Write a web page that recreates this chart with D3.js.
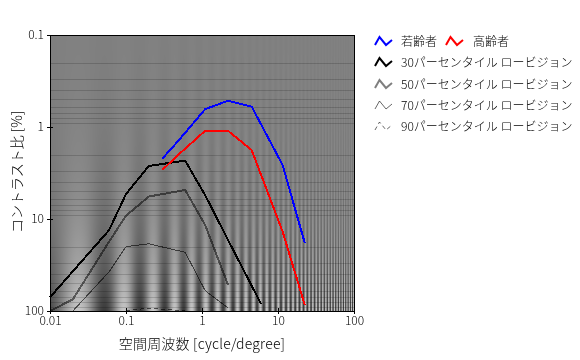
<html>
<head>
  <meta charset="utf-8">
  <title>コントラスト感度</title>
  <script src="https://cdn.jsdelivr.net/npm/d3@7"></script>
  <style>
  html, body{
    margin: 0;
    padding: 0;
    background: white;
    overflow: hidden;
  }
  #chart{
    position: relative;
    width: 580px;
    height: 360px;
  }
  #grating{
    position: absolute;
    left: 50px;
    top: 35px;
  }
  svg{
    position: absolute;
    left: 0;
    top: 0;
  }
  text{
    font-family: "Noto Sans CJK JP", "Noto Sans", sans-serif;
    font-weight: 300;
    fill: black;
  }
  .axis text{
    font-size: 12px;
  }
  .axis path{
    display: none;
  }
  .axis line{
    stroke: black;
    shape-rendering: crispEdges;
  }
  </style>
</head>
<body>
  <div id='chart'>
    <canvas id='grating' width='304' height='276'></canvas>
  </div>
  <script>
  // spatial frequency [cycle/degree]
  var freqLow = [0.01, 0.02, 0.06, 0.1, 0.2, 0.6, 1.1, 2.2, 6]
  var freqEye = [0.3, 0.5, 1.1, 2.2, 4.5, 11.5, 22.5]
  var p70Freq = [0.02, 0.06, 0.1, 0.2, 0.6, 1.1, 2.2]
  var p90Freq = [0.1, 0.2, 0.6]

  // contrast [%]
  var young = [2.21, 1.38, 0.64, 0.518, 0.60, 2.59, 18.2]
  var old = [2.93, 1.97, 1.10, 1.10, 1.78, 13.7, 86]
  var p30 = [71, 37, 13.2, 5.35, 2.65, 2.32, 5.5, 16.9, 84]
  var p50 = [100, 74.7, 17.6, 9.2, 5.7, 4.84, 11.6, 52]
  var p70 = [100, 37.4, 20, 18.6, 23, 60, 92.7]
  var p90 = [100, 92.7, 100]

  var xTicks = [0.01, 0.1, 1, 10, 100]
  var yTicks = [0.1, 1, 10, 100]
  var minorDecades = [0.1, 1, 10]
  var minorSteps = [2, 3, 4, 5, 6, 7, 8, 9]

  var series = [
    {name: "30パーセンタイル ロービジョン", f: freqLow, v: p30, color: "black", width: 2, opacity: 1, dash: null},
    {name: "50パーセンタイル ロービジョン", f: freqLow, v: p50, color: "black", width: 2, opacity: 0.5, dash: null},
    {name: "70パーセンタイル ロービジョン", f: p70Freq, v: p70, color: "black", width: 1, opacity: 0.6, dash: null},
    {name: "90パーセンタイル ロービジョン", f: p90Freq, v: p90, color: "black", width: 1, opacity: 0.6, dash: "4,3"},
    {name: "若齢者", f: freqEye, v: young, color: "blue", width: 2, opacity: 1, dash: null},
    {name: "高齢者", f: freqEye, v: old, color: "red", width: 2, opacity: 1, dash: null}
  ]

  var margin = {top: 35, left: 50}
  var width = 304, height = 276

  var x = d3.scaleLog().domain([0.01, 100]).range([0, width])
  var y = d3.scaleLog().domain([0.1, 100]).range([0, height])

  // background grating, contrast grows downward, frequency to the right
  function drawGrating(){
    var ctx = document.getElementById("grating").getContext("2d")
    var img = ctx.createImageData(width, height)
    for (var j = 0; j < height; j++){
      var c = y.invert(j + 0.5) / 100
      var amp = 70 * Math.pow(c, 0.6)
      for (var i = 0; i < width; i++){
        var lf = Math.log10(x.invert(i + 0.5))
        var phase = 6.85 * Math.pow(2, (lf - 0.1316) / 0.75)
        var g = 128 + amp * Math.cos(2 * Math.PI * (phase - 6.85) + Math.PI)
        var k = (j * width + i) * 4
        img.data[k] = img.data[k + 1] = img.data[k + 2] = g
        img.data[k + 3] = 255
      }
    }
    ctx.putImageData(img, 0, 0)
  }
  drawGrating()

  var svg = d3.select("#chart").append("svg")
    .attr("width", 580)
    .attr("height", 360)

  var g = svg.append("g").attr("transform", "translate(" + margin.left + "," + margin.top + ")")

  // log grid lines, horizontal only
  var gridValues = []
  minorDecades.forEach(function(d){
    minorSteps.forEach(function(s){ gridValues.push(d * s) })
  })
  g.selectAll(".grid")
    .data(gridValues)
    .enter().append("line")
      .attr("class", "grid")
      .attr("x1", 0)
      .attr("x2", width)
      .attr("y1", function(d){ return Math.round(y(d)) + 0.5 })
      .attr("y2", function(d){ return Math.round(y(d)) + 0.5 })
      .style("stroke", "black")
      .style("stroke-opacity", 0.16)
      .style("shape-rendering", "crispEdges")

  var line = d3.line()
    .x(function(d){ return x(d[0]) })
    .y(function(d){ return y(d[1]) })

  g.selectAll(".curve")
    .data(series)
    .enter().append("path")
      .attr("class", "curve")
      .attr("d", function(s){ return line(s.v.map(function(v, i){ return [s.f[i], v] })) })
      .style("fill", "none")
      .style("stroke", function(s){ return s.color })
      .style("stroke-width", function(s){ return s.width })
      .style("stroke-opacity", function(s){ return s.opacity })
      .style("stroke-dasharray", function(s){ return s.dash })
      .style("shape-rendering", "crispEdges")

  // axes, ticks cross the frame
  var xAxis = g.append("g")
    .attr("class", "axis")
    .attr("transform", "translate(0," + height + ")")
    .call(d3.axisBottom(x).tickValues(xTicks).tickFormat(function(d){ return String(d) }).tickSize(3).tickPadding(0))
  xAxis.selectAll("line").attr("y1", -3)
  xAxis.selectAll("text").attr("y", 5)

  var yAxis = g.append("g")
    .attr("class", "axis")
    .call(d3.axisLeft(y).tickValues(yTicks).tickFormat(function(d){ return String(d) }).tickSize(3).tickPadding(3))
  yAxis.selectAll("line").attr("x2", 3).attr("x1", -3)

  g.append("rect")
    .attr("x", 0.5)
    .attr("y", 0.5)
    .attr("width", width)
    .attr("height", height)
    .style("fill", "none")
    .style("stroke", "black")
    .style("shape-rendering", "crispEdges")

  svg.append("text")
    .attr("x", 202)
    .attr("y", 349)
    .attr("text-anchor", "middle")
    .style("font-size", "14px")
    .style("letter-spacing", "0.2px")
    .text("空間周波数 [cycle/degree]")

  svg.append("text")
    .attr("transform", "translate(22,172) rotate(-90)")
    .attr("text-anchor", "middle")
    .style("font-size", "14px")
    .text("コントラスト比 [%]")

  // legend
  var zigzag = [[0, 4], [4.5, -4], [11, 4], [17, -1]]
  var zigLine = d3.line()
  var legendRows = [
    {s: series[4], x: 375, y: 41, tx: 401},
    {s: series[5], x: 446, y: 41, tx: 473},
    {s: series[0], x: 375, y: 62, tx: 401},
    {s: series[1], x: 375, y: 84, tx: 401},
    {s: series[2], x: 375, y: 105, tx: 401},
    {s: series[3], x: 375, y: 126, tx: 401}
  ]
  var rows = svg.selectAll(".legend")
    .data(legendRows)
    .enter().append("g")
      .attr("class", "legend")

  rows.append("path")
    .attr("transform", function(d){ return "translate(" + d.x + "," + d.y + ")" })
    .attr("d", zigLine(zigzag))
    .style("fill", "none")
    .style("stroke", function(d){ return d.s.color })
    .style("stroke-width", function(d){ return d.s.width })
    .style("stroke-opacity", function(d){ return d.s.opacity })
    .style("stroke-dasharray", function(d){ return d.s.dash })

  rows.append("text")
    .attr("x", function(d){ return d.tx })
    .attr("y", function(d){ return d.y + 5 })
    .style("font-size", "12px")
    .text(function(d){ return d.s.name })
  </script>
</body>
</html>
